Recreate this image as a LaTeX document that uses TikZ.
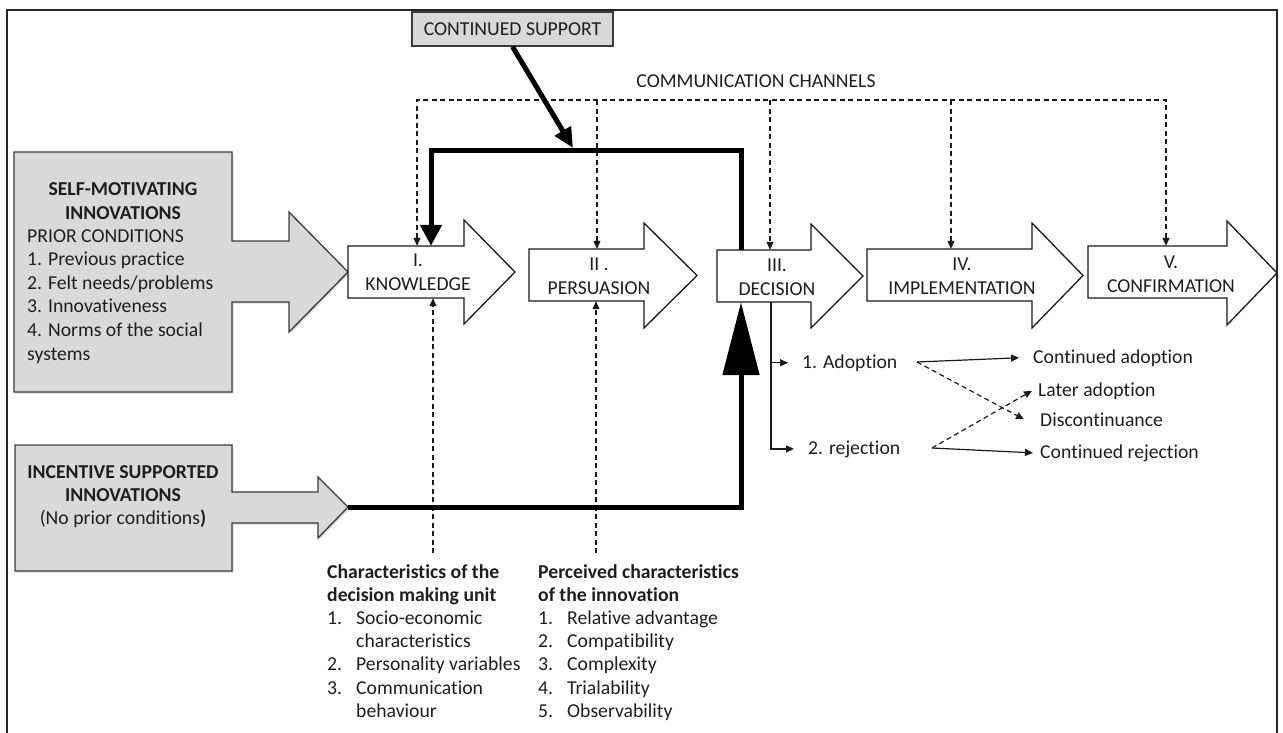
\documentclass[tikz,border=0pt]{standalone}
\usepackage{fontspec}
\setmainfont{Carlito}[Ligatures=NoCommon]
\usetikzlibrary{arrows.meta,shadows,fit,calc}

\definecolor{boxgray}{HTML}{D9D9D9}
\definecolor{ink}{HTML}{1E1E1E}
\definecolor{edge}{HTML}{3A3A3A}

\tikzset{
  txt/.style={inner sep=0pt, text=ink, font=\fontsize{19.7}{23.5}\selectfont},
  bold/.style={inner sep=0pt, text=ink, font=\fontsize{19.7}{23.5}\selectfont\bfseries},
  stageline/.style={draw=black!90, line width=1.3pt, fill=white, line join=miter},
  srcbox/.style={draw=edge, line width=1.3pt, fill=boxgray, line join=miter,
    drop shadow={shadow xshift=1.5pt, shadow yshift=-1.5pt, opacity=0.3}},
  heavy/.style={line width=5pt, black, line join=miter},
  thinline/.style={line width=1.2pt, black!90},
  dashline/.style={line width=1.2pt, black!90, dash pattern=on 5pt off 3.5pt},
  smalltip/.style={-{Triangle[length=8pt,width=7pt]}},
  frameline/.style={line width=2pt, black!85},
  anchorbox/.style={inner sep=0pt, fit=#1}
}

% a white stage arrow: name, left x, body top, body bottom, head x, head top, head bottom, tip x
\newcommand{\stagearrow}[8]{%
  \draw[stageline] (#2,#3) -- (#5,#3) -- (#5,#6) -- (#8,{(#6+#7)/2}) -- (#5,#7)
    -- (#5,#4) -- (#2,#4) -- cycle;
  \path (#2,#3) coordinate (#1-nw) (#5,#4) coordinate (#1-se);
  \node[anchorbox={(#1-nw)(#1-se)}] (#1) {};
}

\begin{document}
\begin{tikzpicture}[x=1pt, y=-1pt]
\useasboundingbox (0,0) rectangle (1283,732);

% outer frame
\draw[frameline] (7,745) -- (7,10) -- (1277,10) -- (1277,745);

% ---- sources on the left
\draw[srcbox] (14,152) -- (232,152) -- (232,241) -- (289,241) -- (289,212)
  -- (348,272) -- (289,332) -- (289,302) -- (232,302) -- (232,392) -- (14,392) -- cycle;
\path (14,152) coordinate (selfm-nw) (232,392) coordinate (selfm-se);
\node[anchorbox={(selfm-nw)(selfm-se)}] (selfm) {};
\node[bold, anchor=base] (selfm-h1) at (123,195) {SELF-MOTIVATING};
\node[bold, anchor=base] (selfm-h2) at (123,219) {INNOVATIONS};
\foreach \s [count=\i from 0] in {PRIOR CONDITIONS, 1. Previous practice,
    2. Felt needs/problems, 3. Innovativeness, 4. Norms of the social, systems}
  \node[txt, anchor=base west] (selfm-l\i) at (27,{242+23.6*\i}) {\s};

\draw[srcbox] (15,445) -- (232,445) -- (232,492) -- (318,492) -- (318,477)
  -- (348,507) -- (318,538) -- (318,523) -- (232,523) -- (232,571) -- (15,571) -- cycle;
\path (15,445) coordinate (inc-nw) (232,571) coordinate (inc-se) (348,507) coordinate (inc-tip);
\node[anchorbox={(inc-nw)(inc-se)}] (inc) {};
\node[bold, anchor=base] (inc-h1) at (123,478) {INCENTIVE SUPPORTED};
\node[bold, anchor=base] (inc-h2) at (123,501) {INNOVATIONS};
\node[txt, anchor=base] (inc-l1) at (123,524) {(No prior conditions\textbf{)}};

% ---- the five stages
\stagearrow{know}{348}{246}{298}{464}{220}{324}{515}
\stagearrow{pers}{529}{249}{301}{644}{223}{328}{697}
\stagearrow{dec}{717}{250}{302}{811}{224}{328}{863}
\stagearrow{impl}{867}{249}{301}{1032}{223}{328}{1083}
\stagearrow{conf}{1088}{246}{298}{1227}{221}{325}{1277}

\node[txt, align=center] (know-t) at (418,272) {I.\\KNOWLEDGE};
\node[txt, align=center] (pers-t) at (599,276) {II .\\PERSUASION};
\node[txt, align=center] (dec-t) at (777,277) {III.\\DECISION};
\node[txt, align=center] (impl-t) at (962,276) {IV.\\IMPLEMENTATION};
\node[txt, align=center] (conf-t) at (1171,274) {V.\\CONFIRMATION};

% ---- support and channels at the top
\node[txt, draw=edge, line width=1.3pt, fill=boxgray, minimum width=201pt,
  minimum height=34pt] (cs) at (512.5,29) {CONTINUED SUPPORT};
\node[txt] (chan) at (756,81) {COMMUNICATION CHANNELS};

\path (417,100) coordinate (chL) (597,100) coordinate (ch2) (770,100) coordinate (ch3)
      (951,100) coordinate (ch4) (1166,100) coordinate (chR);
\draw[dashline, {Triangle[length=8pt,width=7pt]}-{Triangle[length=8pt,width=7pt]}]
  (chL |- know.north) -- (chL) -- (chR) -- (chR |- conf.north);
\foreach \c/\s in {ch2/pers, ch3/dec, ch4/impl}
  \draw[dashline, smalltip] (\c) -- (\c |- \s.north);

% ---- characteristics below the stages
\node[bold, anchor=base west] (dmu-h1) at (327,578) {Characteristics of the};
\node[bold, anchor=base west] (dmu-h2) at (327,601) {decision making unit};
\foreach \n/\s/\r in {1./Socio-economic/2, {}/characteristics/3,
    2./Personality variables/4, 3./Communication/5, {}/behaviour/6} {
  \node[txt, anchor=base west] (dmu-n\r) at (327,{578+23.2*\r}) {\n};
  \node[txt, anchor=base west] (dmu-s\r) at (356,{578+23.2*\r}) {\s};
}
\node[bold, anchor=base west] (pci-h1) at (538,578) {Perceived characteristics};
\node[bold, anchor=base west] (pci-h2) at (538,601) {of the innovation};
\foreach \n/\s/\r in {1./Relative advantage/2, 2./Compatibility/3, 3./Complexity/4,
    4./Trialability/5, 5./Observability/6} {
  \node[txt, anchor=base west] (pci-n\r) at (538,{578+23.2*\r}) {\n};
  \node[txt, anchor=base west] (pci-s\r) at (567,{578+23.2*\r}) {\s};
}
\path (433,553) coordinate (dmu-top) (596,553) coordinate (pci-top);
\draw[dashline, smalltip] (dmu-top) -- (dmu-top |- know.south);
\draw[dashline, smalltip] (pci-top) -- (pci-top |- pers.south);

% ---- decision outcomes
\node[txt, anchor=base west] (adopt) at (802,368) {1. Adoption};
\node[txt, anchor=base west] (reject) at (808,454) {2. rejection};
\node[txt, anchor=base west] (contadopt) at (1033,363) {Continued adoption};
\node[txt, anchor=base west] (later) at (1038,396) {Later adoption};
\node[txt, anchor=base west] (discont) at (1040,426) {Discontinuance};
\node[txt, anchor=base west] (contrej) at (1040,458) {Continued rejection};

\coordinate (dbr) at (771,302);
\draw[thinline, smalltip] (dbr |- dec.south) |- ([xshift=-14pt]reject.west);
\draw[thinline, smalltip] (dbr |- adopt.west) -- ([xshift=-14pt]adopt.west);

\path (917,362) coordinate (aout) (932,448) coordinate (rout);
\draw[thinline, smalltip] (aout) -- ([xshift=-14pt]contadopt.west);
\draw[dashline, smalltip] (aout) -- ([xshift=-16pt]discont.west);
\draw[dashline, smalltip] (rout) -- ([xshift=-6pt]later.west);
\draw[thinline, smalltip] (rout) -- ([xshift=-7pt]contrej.west);

% ---- heavy support paths
\path (741,150) coordinate (lpR) (431,150) coordinate (lpL) (573,148) coordinate (cs-hit)
      (741,507) coordinate (incR);
\draw[heavy, -{Triangle[width=21pt,length=21pt]}]
  (dec.north -| lpR) -- (lpR) -- (lpL) -- (lpL |- know.north);
\draw[heavy, -{Triangle[width=18pt,length=20pt]}] (cs.south) -- (cs-hit);
\draw[heavy, -{Triangle[width=36pt,length=73pt]}]
  (inc-tip) -- (incR) -- (incR |- dec.south);
\end{tikzpicture}
\end{document}
